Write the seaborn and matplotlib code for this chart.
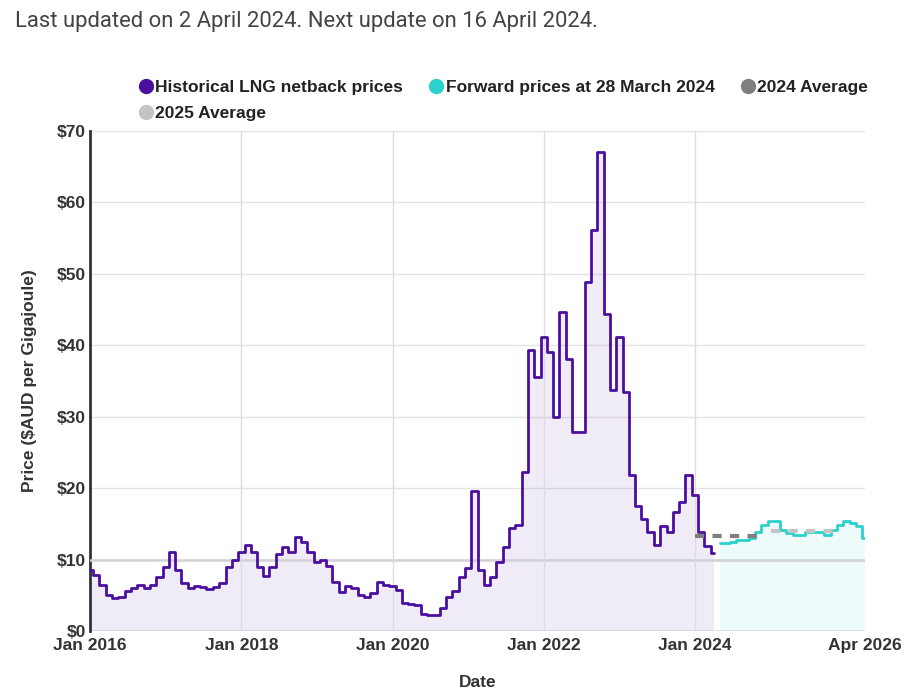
import pandas as pd
import seaborn as sns
import matplotlib.pyplot as plt
from matplotlib.lines import Line2D

sns.set_style("white")
plt.rcParams['font.family'] = ['Liberation Sans', 'DejaVu Sans']

# 历史LNG netback价格 (2016-01 起, 每月)
hist_start = '2016-01-01'
hist_prices = [8.5, 7.8, 6.4, 5.0, 4.6, 4.8, 5.6, 6.0, 6.4, 6.0, 6.4, 7.6,
               9.0, 11.1, 8.5, 6.7, 6.0, 6.3, 6.1, 5.9, 6.1, 6.7, 8.9, 9.9,
               11.1, 12.1, 11.0, 9.0, 7.7, 8.9, 10.8, 11.7, 11.0, 13.2, 12.4, 11.1,
               9.7, 9.9, 9.1, 6.9, 5.4, 6.3, 6.0, 5.0, 4.7, 5.3, 6.8, 6.5,
               6.3, 5.8, 3.9, 3.8, 3.6, 2.4, 2.3, 2.3, 3.2, 4.7, 5.6, 7.6,
               8.8, 19.6, 8.5, 6.4, 7.6, 9.7, 11.8, 14.4, 14.8, 22.2, 39.3, 35.5,
               41.2, 39.1, 30.0, 44.6, 38.1, 27.9, 27.9, 48.9, 56.2, 67.0, 44.4, 33.7,
               41.1, 33.4, 21.8, 17.5, 15.7, 13.8, 12.0, 14.7, 13.9, 16.7, 18.0, 21.9,
               19.0, 13.8, 11.9, 10.9]

# 远期价格 (2024-05 起)
fwd_start = '2024-05-01'
fwd_prices = [12.3, 12.3, 12.5, 12.7, 12.7, 13.0, 13.9, 14.8, 15.4, 15.4, 14.2, 13.7,
              13.5, 13.5, 13.8, 13.9, 13.9, 13.4, 14.2, 14.8, 15.4, 15.1, 14.7, 13.0]

avg_2024 = 13.3
avg_2025 = 14.05

tick_dates = ['2016-01-01', '2018-01-01', '2020-01-01', '2022-01-01', '2024-01-01', '2026-04-01']
tick_labels = ['Jan 2016', 'Jan 2018', 'Jan 2020', 'Jan 2022', 'Jan 2024', 'Apr 2026']
y_ticks = [0, 10, 20, 30, 40, 50, 60, 70]

purple = '#4b0f9f'
cyan = '#2bd1cc'
dark_grey = '#7f7f7f'
light_grey = '#c4c4c4'

df_hist = pd.DataFrame({'date': pd.date_range(hist_start, periods=len(hist_prices), freq='MS'),
                        'price': hist_prices})
df_fwd = pd.DataFrame({'date': pd.date_range(fwd_start, periods=len(fwd_prices), freq='MS'),
                       'price': fwd_prices})

fig = plt.figure(figsize=(9.07, 6.88), dpi=100)
ax = fig.add_axes([90 / 907, 1 - 631 / 688, 775 / 907, 500 / 688])

# 网格线
for y in y_ticks[1:]:
    ax.axhline(y, color='#e3e3e3', lw=1, zorder=0)
ax.axhline(0, color='#e3e3e3', lw=1.2, zorder=0)
ax.axhline(10, color='#d2d2d6', lw=1.8, zorder=3)
for d in tick_dates[1:-1]:
    ax.axvline(pd.Timestamp(d), color='#dcdce0', lw=1, zorder=3)

# 面积填充
ax.fill_between(df_hist['date'], df_hist['price'], step='mid', color=purple, alpha=0.08, lw=0, zorder=1)
ax.fill_between(df_fwd['date'], df_fwd['price'], step='mid', color=cyan, alpha=0.08, lw=0, zorder=1)

sns.lineplot(data=df_hist, x='date', y='price', drawstyle='steps-mid', color=purple, lw=2, ax=ax, zorder=5)
sns.lineplot(data=df_fwd, x='date', y='price', drawstyle='steps-mid', color=cyan, lw=2, ax=ax, zorder=5)

# 年度平均
ax.plot([pd.Timestamp('2024-01-01'), pd.Timestamp('2024-12-01')], [avg_2024, avg_2024],
        color=dark_grey, lw=3, dashes=(2.2, 2.0), zorder=6)
ax.plot([pd.Timestamp('2025-01-01'), pd.Timestamp('2025-12-01')], [avg_2025, avg_2025],
        color=light_grey, lw=3, dashes=(2.2, 2.0), zorder=6)

ax.set_xlim(pd.Timestamp('2016-01-01'), pd.Timestamp('2026-04-01'))
ax.set_ylim(0, 70)
ax.set_xticks([pd.Timestamp(d) for d in tick_dates])
ax.set_xticklabels(tick_labels)
ax.set_yticks(y_ticks)
ax.set_yticklabels(['\\$%d' % v for v in y_ticks])
ax.tick_params(axis='both', length=0, labelsize=12.5, colors='#333333')
ax.tick_params(axis='x', pad=5)
ax.tick_params(axis='y', pad=3)
for lab in ax.get_xticklabels() + ax.get_yticklabels():
    lab.set_fontweight('bold')

for s in ['top', 'right', 'bottom']:
    ax.spines[s].set_visible(False)
ax.spines['left'].set_color('#333333')
ax.spines['left'].set_linewidth(2)

ax.set_xlabel('Date', fontsize=12.5, fontweight='bold', color='#333333')
ax.xaxis.set_label_coords(0.5, -0.088)
ax.set_ylabel('Price (\\$AUD per Gigajoule)', fontsize=12.5, fontweight='bold', color='#333333')
ax.yaxis.set_label_coords(-0.068, 0.5)

fig.text(15 / 907, 1 - 22 / 688, 'Last updated on 2 April 2024. Next update on 16 April 2024.',
         fontsize=15.8, color='#444444', va='center', ha='left', family=['Roboto', 'DejaVu Sans'])

# 图例
handles = [Line2D([], [], marker='o', ls='none', ms=10, color=c) for c in [purple, light_grey, cyan, dark_grey]]
labels = ['Historical LNG netback prices', '2025 Average', 'Forward prices at 28 March 2024', '2024 Average']
leg = fig.legend(handles, labels, loc='upper left', bbox_to_anchor=(139 / 907, 1 - 80 / 688),
                 ncol=3, frameon=False, borderpad=0, borderaxespad=0, handletextpad=0.15,
                 handlelength=0.8, columnspacing=1.5, labelspacing=0.6,
                 prop={'size': 12.5, 'weight': 'bold'})
for t in leg.get_texts():
    t.set_color('#222222')

plt.savefig('out.png', dpi=100)
